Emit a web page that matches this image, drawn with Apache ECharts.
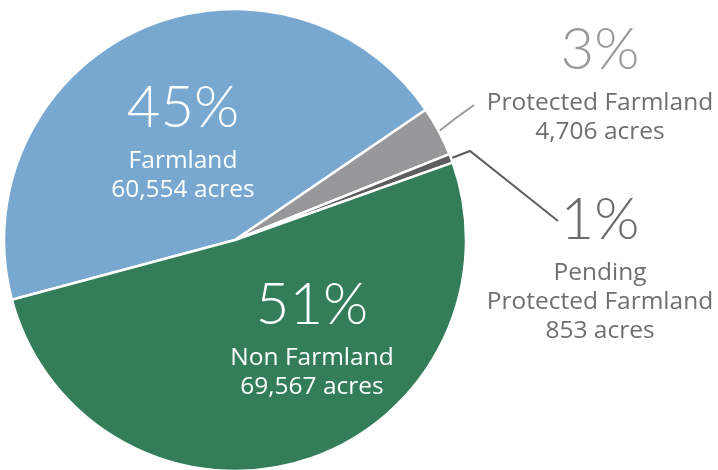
<!DOCTYPE html>
<html>
<head>
<meta charset="utf-8">
<script src="https://cdn.jsdelivr.net/npm/echarts@6/dist/echarts.min.js"></script>
<style>html,body{margin:0;padding:0;background:#fff;}#c{width:718px;height:470px;}</style>
</head>
<body>
<div id="c"></div>
<script>
const categories = ['Farmland', 'Protected Farmland', 'Pending Protected Farmland', 'Non Farmland'];
const nameLines = [['Farmland'], ['Protected Farmland'], ['Pending', 'Protected Farmland'], ['Non Farmland']];
const acres = [60554, 4706, 853, 69567];
const colors = ['#78a8d0', '#98989b', '#5e5e60', '#337d58'];

const total = acres.reduce((a, b) => a + b, 0);
const PFONT = 'Lato, "Open Sans", sans-serif';
const NFONT = '"Open Sans", Lato, sans-serif';

const labelCfg = [
  { inside: true, pColor: '#ffffff', nColor: '#ffffff', x: 183, y: 137 },
  { inside: false, pColor: '#9a9a9d', nColor: '#6f6f72', x: 600, y: 79, lineColor: '#9a9a9d', line: [[456, 118], [474, 105]] },
  { inside: false, pColor: '#6b6b6d', nColor: '#6f6f72', x: 600, y: 264, lineColor: '#5e5e60', line: [[470, 151], [558, 221]] },
  { inside: true, pColor: '#ffffff', nColor: '#ffffff', x: 312, y: 334 }
];

const data = categories.map((name, i) => {
  const c = labelCfg[i];
  return {
    name: name,
    value: acres[i],
    itemStyle: { color: colors[i] },
    label: {
      position: c.inside ? 'inside' : 'outside',
      overflow: 'none',
      rich: {
        p: { fontFamily: PFONT, fontWeight: 300, fontSize: 58, lineHeight: 77, color: c.pColor, align: 'center' },
        n: { fontFamily: NFONT, fontWeight: 400, fontSize: 24.5, lineHeight: 29, color: c.nColor, align: 'center' }
      }
    },
    labelLine: c.inside ? { show: false } : { show: true, lineStyle: { color: c.lineColor, width: 2 } }
  };
});

const chart = echarts.init(document.getElementById('c'), null, { renderer: 'canvas' });
chart.setOption({
  animation: false,
  series: [{
    type: 'pie',
    center: [235, 240],
    radius: 231,
    startAngle: 195,
    clockwise: true,
    itemStyle: { borderColor: '#ffffff', borderWidth: 2.5 },
    emphasis: { disabled: true },
    label: {
      show: true,
      align: 'center',
      overflow: 'none',
      formatter: function (p) {
        const i = p.dataIndex;
        const pct = Math.round(acres[i] / total * 100) + '%';
        const lines = nameLines[i].map(s => '{n|' + s + '}');
        lines.push('{n|' + acres[i].toLocaleString('en-US') + ' acres}');
        return '{p|' + pct + '}\n' + lines.join('\n');
      }
    },
    labelLayout: function (p) {
      const c = labelCfg[p.dataIndex];
      const res = { x: c.x, y: c.y, align: 'center', verticalAlign: 'middle' };
      if (!c.inside && p.labelLinePoints) {
        res.labelLinePoints = [p.labelLinePoints[0], c.line[0], c.line[1]];
      }
      return res;
    },
    data: data
  }]
});
</script>
</body>
</html>
